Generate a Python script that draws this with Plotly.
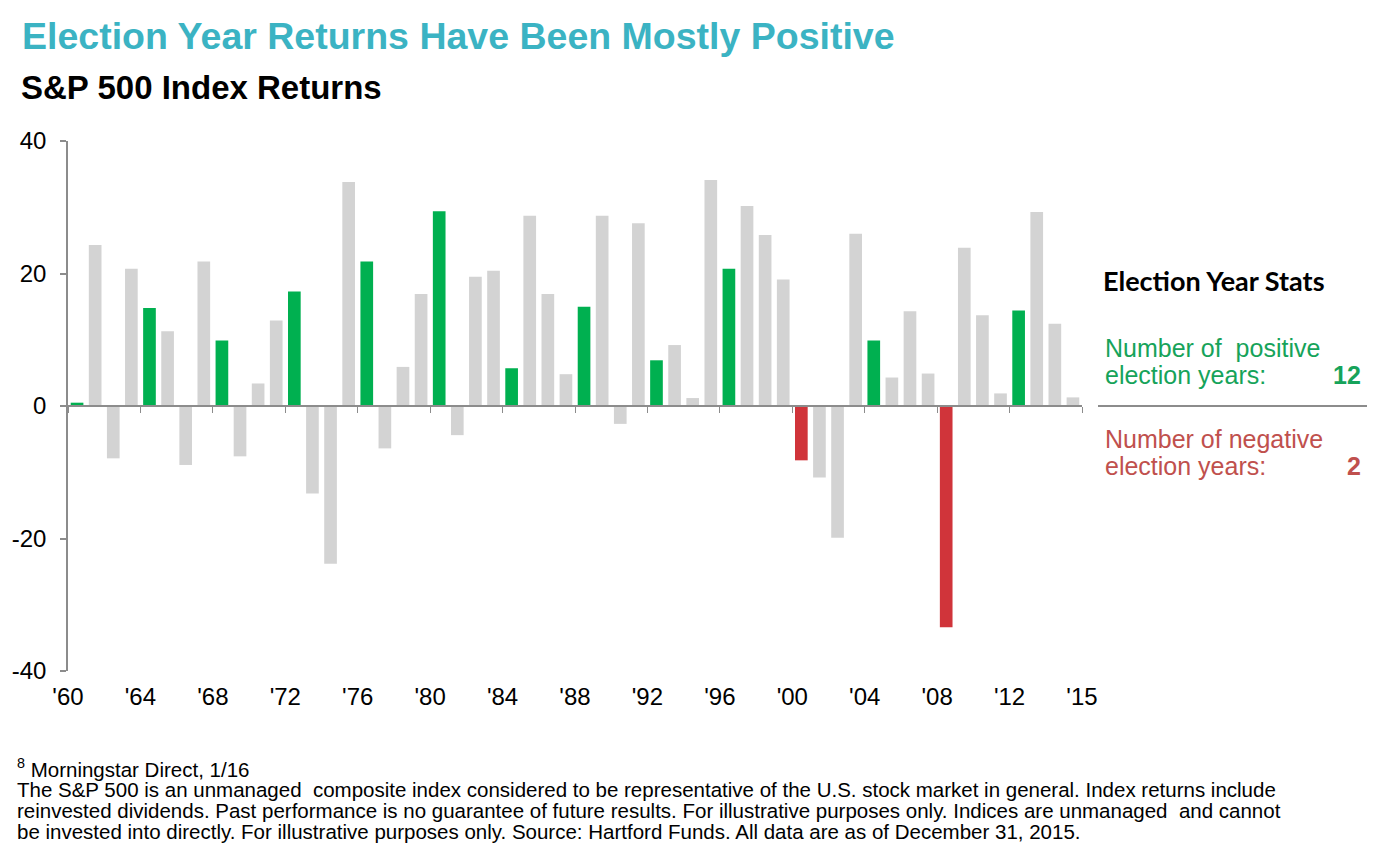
import plotly.graph_objects as go

# ---- data ----
years = list(range(1960, 2016))
returns = [
    0.5, 24.3, -7.9, 20.7, 14.8, 11.3, -8.9, 21.8, 9.9, -7.6,
    3.4, 12.9, 17.3, -13.2, -23.8, 33.8, 21.8, -6.4, 5.9, 16.9,
    29.4, -4.4, 19.5, 20.4, 5.7, 28.7, 16.9, 4.8, 15.0, 28.7,
    -2.7, 27.6, 6.9, 9.2, 1.2, 34.1, 20.7, 30.2, 25.8, 19.1,
    -8.2, -10.8, -19.9, 26.0, 9.9, 4.3, 14.3, 4.9, -33.4, 23.9,
    13.7, 1.9, 14.4, 29.3, 12.4, 1.3,
]
tick_labels = ["'60", "'64", "'68", "'72", "'76", "'80", "'84", "'88",
               "'92", "'96", "'00", "'04", "'08", "'12", "'15"]
y_ticks = [-40, -20, 0, 20, 40]

title = "Election Year Returns Have Been Mostly Positive"
subtitle = "S&P 500 Index Returns"
footnote_lines = [
    "<sup>8</sup> Morningstar Direct, 1/16",
    "The S&P 500 is an unmanaged  composite index considered to be representative of the U.S. stock market in general. Index returns include",
    "reinvested dividends. Past performance is no guarantee of future results. For illustrative purposes only. Indices are unmanaged  and cannot",
    "be invested into directly. For illustrative purposes only. Source: Hartford Funds. All data are as of December 31, 2015.",
]

# ---- styling ----
GREEN = "#00B050"
RED = "#D0343A"
GRAY = "#D3D3D3"
TEAL = "#3BB3C3"
AXIS = "#8C8C8C"
GREEN_TXT = "#16A35A"
RED_TXT = "#C0504D"
FONT = "Liberation Sans, Arial, sans-serif"

W, H = 1394, 859
L, R, T, B = 68, 1082, 141, 671  # plot area in pixels


def px_x(px):
    return (px - L) / (R - L)


def px_y(py):
    return (B - py) / (B - T)


is_election = [y % 4 == 0 for y in years]
colors = []
for y, v, e in zip(years, returns, is_election):
    if e:
        colors.append(GREEN if v >= 0 else RED)
    else:
        colors.append(GRAY)

n_pos = sum(1 for v, e in zip(returns, is_election) if e and v >= 0)
n_neg = sum(1 for v, e in zip(returns, is_election) if e and v < 0)

x_lo = years[0] - 0.5
x_hi = years[-1] + 0.5
tick_pos = [x_lo + 4 * i for i in range(len(tick_labels))]

fig = go.Figure()
fig.add_trace(go.Bar(x=years, y=returns, marker=dict(color=colors, line=dict(width=0)),
                     showlegend=False, hoverinfo="x+y"))
# invisible trace to host the label axis
fig.add_trace(go.Scatter(x=[years[0]], y=[0], xaxis="x2", mode="markers",
                         marker=dict(opacity=0), showlegend=False, hoverinfo="skip"))

y_lo, y_hi = y_ticks[0], y_ticks[-1]
zero_frac = (0 - y_lo) / (y_hi - y_lo)

fig.update_layout(
    width=W, height=H,
    margin=dict(l=L, r=W - R, t=T, b=H - B, pad=0, autoexpand=False),
    paper_bgcolor="white", plot_bgcolor="white",
    bargap=0.3,
    font=dict(family=FONT, color="black"),
    xaxis=dict(
        range=[x_lo, x_hi], anchor="free", position=zero_frac,
        showline=True, linecolor=AXIS, linewidth=1.5,
        ticks="outside", ticklen=6, tickcolor=AXIS, tickwidth=1,
        tickvals=tick_pos, showticklabels=False,
        showgrid=False, zeroline=False, automargin=False,
    ),
    xaxis2=dict(
        range=[x_lo, x_hi], overlaying="x", anchor="y", side="bottom",
        showline=False, ticks="", tickvals=tick_pos, ticktext=tick_labels,
        tickfont=dict(size=24, family=FONT, color="black"),
        showgrid=False, zeroline=False, ticklabelstandoff=9, automargin=False,
    ),
    yaxis=dict(
        range=[y_lo, y_hi], tickvals=y_ticks, ticktext=[str(v) for v in y_ticks],
        showline=True, linecolor=AXIS, linewidth=1.5,
        ticks="outside", ticklen=6, tickcolor=AXIS, tickwidth=1.5,
        tickfont=dict(size=24, family=FONT, color="black"),
        ticklabelstandoff=9, automargin=False,
        showgrid=False, zeroline=False,
    ),
)

ann = []


def add_text(text, px, py, size, color, family=FONT, xanchor="left"):
    ann.append(dict(text=text, x=px_x(px), y=px_y(py), xref="paper", yref="paper",
                    xanchor=xanchor, yanchor="middle", align=xanchor, showarrow=False,
                    font=dict(size=size, color=color, family=family)))


add_text(f"<b>{title}</b>", 20, 36, 37.5, TEAL)
add_text(f"<b>{subtitle}</b>", 19, 87, 33, "black")

add_text("<b>Election Year Stats</b>", 1101, 280, 27, "black", family="Lato, Open Sans, sans-serif")
add_text("Number of  positive", 1103, 348, 25, GREEN_TXT)
add_text("election years:", 1103, 375, 25, GREEN_TXT)
add_text(f"<b>{n_pos}</b>", 1363, 375, 25, GREEN_TXT, xanchor="right")
add_text("Number of negative", 1103, 439, 25, RED_TXT)
add_text("election years:", 1103, 466, 25, RED_TXT)
add_text(f"<b>{n_neg}</b>", 1363, 466, 25, RED_TXT, xanchor="right")

for i, line in enumerate(footnote_lines):
    add_text(line, 15, 768 + 21 * i, 20.5, "black")

fig.update_layout(annotations=ann)

fig.add_shape(type="line", xref="paper", yref="y", x0=px_x(1098), x1=px_x(1367), y0=0, y1=0,
              line=dict(color=AXIS, width=2))

fig.write_html("out.html")
